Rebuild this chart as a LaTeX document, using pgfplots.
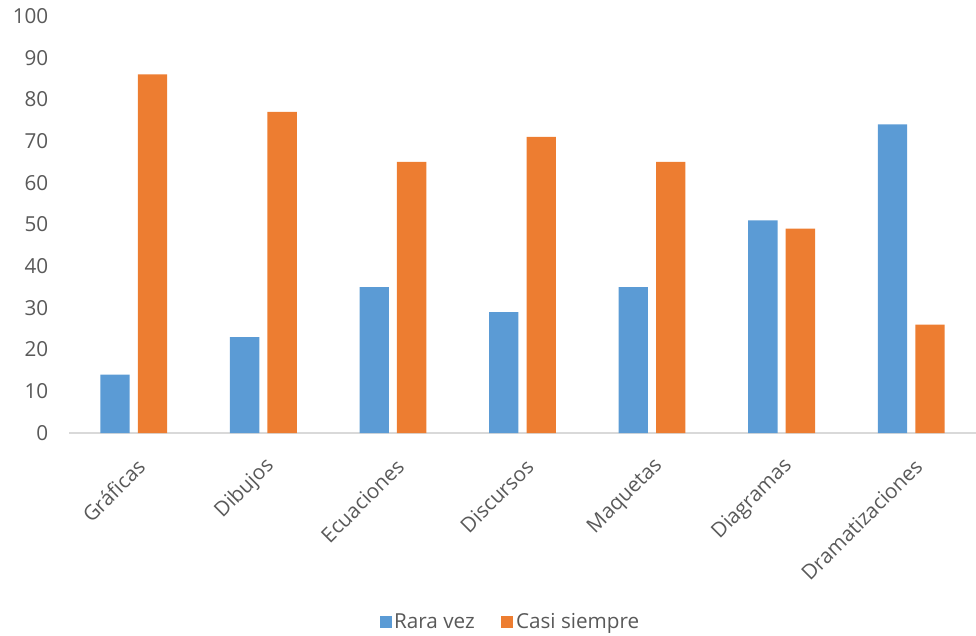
\documentclass[border=0pt]{standalone}
\usepackage{pgfplots}
\pgfplotsset{compat=1.18}
\usepackage{fontspec}
\setmainfont{Open Sans}
\definecolor{cblue}{HTML}{5B9BD5}
\definecolor{corange}{HTML}{ED7D31}
\definecolor{ctext}{HTML}{595959}
\definecolor{caxis}{HTML}{D9D9D9}
\begin{document}
\begin{tikzpicture}
\path[use as bounding box] (0,0) rectangle (732pt,477pt);
\begin{axis}[
  at={(51.75pt,152.25pt)}, anchor=south west,
  scale only axis, width=680.25pt, height=312.75pt,
  ybar, ybar=6.1pt, bar width=22pt,
  xmin=-0.5, xmax=6.5, ymin=0, ymax=100,
  xtick=data,
  xticklabels={Gráficas,Dibujos,Ecuaciones,Discursos,Maquetas,Diagramas,Dramatizaciones},
  ytick={0,10,...,100},
  major tick length=0pt,
  axis x line*=bottom, axis y line*=left,
  x axis line style={draw=caxis, line width=1.2pt, -},
  y axis line style={draw=none},
  tick label style={font=\fontsize{15.5pt}{18pt}\selectfont, text=ctext},
  /pgf/number format/assume math mode=true,
  yticklabel style={anchor=east, xshift=-12pt},
  xticklabel style={xshift=8pt, yshift=-20pt, rotate=45, anchor=east},
  legend style={at={(0.487,-0.453)}, anchor=center, draw=none, legend columns=2,
    font=\fontsize{15.5pt}{18pt}\selectfont, text=ctext,
    /tikz/every even column/.append style={column sep=18pt}},
  legend image code/.code={\fill[#1] (-4.5pt,-4.5pt) rectangle (4.5pt,4.5pt);},
  clip=false,
]
\addplot[fill=cblue, draw=none] coordinates {(0,14) (1,23) (2,35) (3,29) (4,35) (5,51) (6,74)};
\addplot[fill=corange, draw=none] coordinates {(0,86) (1,77) (2,65) (3,71) (4,65) (5,49) (6,26)};
\legend{Rara vez, Casi siempre}
\end{axis}
\end{tikzpicture}
\end{document}
